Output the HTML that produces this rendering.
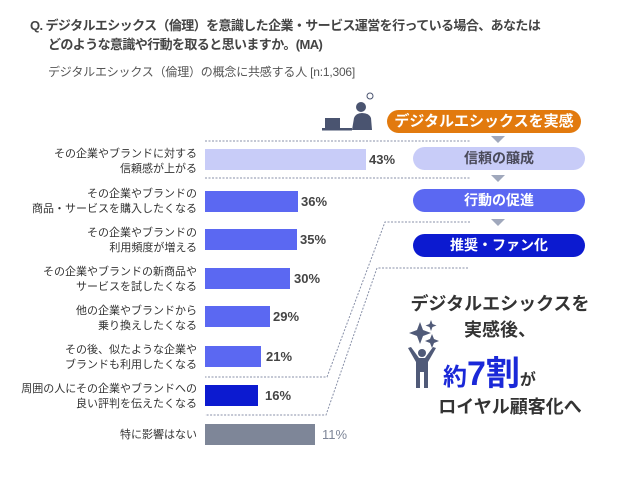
<!DOCTYPE html>
<html><head><meta charset="utf-8"><style>
body{margin:0;width:628px;height:495px;background:#fff;overflow:hidden;position:relative;font-family:"Liberation Sans","Noto Sans CJK JP",sans-serif;color:#333}
.a{position:absolute}
.t{font-size:13px;font-weight:bold;color:#444;white-space:nowrap;letter-spacing:-0.6px}
.lab{position:absolute;right:431px;text-align:right;font-size:11px;line-height:15px;color:#333;white-space:nowrap}
.bar{position:absolute;left:205px;height:21px}
.pct{position:absolute;font-size:13px;color:#444;font-weight:bold}
.pill{position:absolute;border-radius:12px;text-align:center;font-weight:bold;font-size:14px;line-height:23px;color:#fff}
</style></head><body>
<div class="a t" style="left:30px;top:15px">Q. デジタルエシックス（倫理）を意識した企業・サービス運営を行っている場合、あなたは</div>
<div class="a t" style="left:48px;top:34px">どのような意識や行動を取ると思いますか。(MA)</div>
<div class="a" style="left:48px;top:63px;font-size:12px;color:#555;letter-spacing:-0.2px">デジタルエシックス（倫理）の概念に共感する人 [n:1,306]</div>

<svg class="a" style="left:0;top:0" width="628" height="495">
<g stroke="#8890a8" stroke-width="1" stroke-dasharray="2,1.5" fill="none">
<line x1="205" y1="141" x2="470" y2="141"/>
<line x1="205" y1="178" x2="470" y2="178"/>
<polyline points="470,222 385,222 327,377 205,377"/>
<polyline points="468,268 377,268 326,415 205,415"/>
</g>
<g fill="#4a5470">
<circle cx="361" cy="107" r="5"/>
<path d="M352,130 L354,118 Q356,113 362,113 Q369,113 371,118 L372,130 Z"/>
<rect x="325" y="118" width="15" height="10"/>
<rect x="322" y="128" width="30" height="2.5"/>
<circle cx="370" cy="96" r="3" fill="none" stroke="#4a5470" stroke-width="1"/>
</g>
<g fill="#a0a8bc">
<polygon points="491,136 505,136 498,143"/>
<polygon points="491,175 505,175 498,182"/>
<polygon points="491,219 505,219 498,226"/>
</g>
<g fill="#505a78">
<path d="M420,322 l3,8 l8,3 l-8,3 l-3,8 l-3,-8 l-8,-3 l8,-3z"/>
<path d="M431,320 l1.5,4 l4,1.5 l-4,1.5 l-1.5,4 l-1.5,-4 l-4,-1.5 l4,-1.5z"/>
<path d="M432,334 l2,5 l5,2 l-5,2 l-2,5 l-2,-5 l-5,-2 l5,-2z"/>
<circle cx="422" cy="353" r="4"/>
<path d="M408,348 L411,347 L419,358 L425,358 L433,347 L436,348 L428,362 L428,388 L424,388 L424,372 L420,372 L420,388 L416,388 L416,362 Z"/>
</g>
</svg>

<div class="lab" style="top:147px">その企業やブランドに対する<br>信頼感が上がる</div>
<div class="lab" style="top:187px">その企業やブランドの<br>商品・サービスを購入したくなる</div>
<div class="lab" style="top:226px">その企業やブランドの<br>利用頻度が増える</div>
<div class="lab" style="top:265px">その企業やブランドの新商品や<br>サービスを試したくなる</div>
<div class="lab" style="top:304px">他の企業やブランドから<br>乗り換えしたくなる</div>
<div class="lab" style="top:343px">その後、似たような企業や<br>ブランドも利用したくなる</div>
<div class="lab" style="top:382px">周囲の人にその企業やブランドへの<br>良い評判を伝えたくなる</div>
<div class="lab" style="top:428px">特に影響はない</div>

<div class="bar" style="top:149px;width:161px;background:#c8ccf8"></div>
<div class="bar" style="top:191px;width:93px;background:#5b68f2"></div>
<div class="bar" style="top:229px;width:92px;background:#5b68f2"></div>
<div class="bar" style="top:268px;width:85px;background:#5b68f2"></div>
<div class="bar" style="top:306px;width:65px;background:#5b68f2"></div>
<div class="bar" style="top:346px;width:56px;background:#5b68f2"></div>
<div class="bar" style="top:385px;width:53px;background:#0c1ad0"></div>
<div class="bar" style="top:424px;width:110px;background:#7e8698"></div>

<div class="pct" style="left:369px;top:152px">43%</div>
<div class="pct" style="left:301px;top:194px">36%</div>
<div class="pct" style="left:300px;top:232px">35%</div>
<div class="pct" style="left:294px;top:271px">30%</div>
<div class="pct" style="left:273px;top:309px">29%</div>
<div class="pct" style="left:266px;top:349px">21%</div>
<div class="pct" style="left:265px;top:388px">16%</div>
<div class="pct" style="left:322px;top:427px;color:#7e8698;font-weight:normal">11%</div>

<div class="pill" style="left:387px;top:110px;width:194px;background:#e27a0e;font-size:15px">デジタルエシックスを実感</div>
<div class="pill" style="left:413px;top:147px;width:172px;background:#c8ccf8;color:#4a4a5a">信頼の醸成</div>
<div class="pill" style="left:413px;top:189px;width:172px;background:#5b68f2">行動の促進</div>
<div class="pill" style="left:413px;top:234px;width:172px;background:#0c1ad0">推奨・ファン化</div>

<div class="a" style="left:400px;top:290px;width:200px;text-align:center;font-size:18px;font-weight:bold;color:#333">デジタルエシックスを</div>
<div class="a" style="left:400px;top:316px;width:200px;text-align:center;font-size:18px;font-weight:bold;color:#333">実感後、</div>
<div class="a" style="left:443px;top:346px;font-weight:bold;color:#1a28d8;white-space:nowrap"><span style="font-size:24px">約</span><span style="font-size:34px">7割</span><span style="font-size:16px;color:#333">が</span></div>
<div class="a" style="left:400px;top:393px;width:220px;text-align:center;font-size:18px;font-weight:bold;color:#333">ロイヤル顧客化へ</div>
</body></html>
